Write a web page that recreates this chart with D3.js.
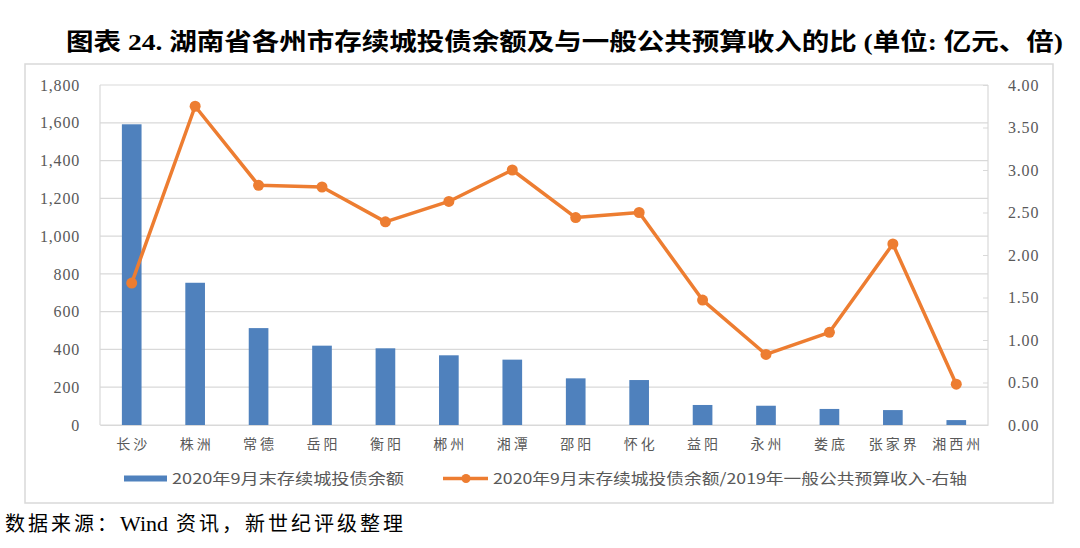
<!DOCTYPE html>
<html>
<head>
<meta charset="utf-8">
<script src="https://cdn.jsdelivr.net/npm/d3@7/dist/d3.min.js"></script>
<style>
  html, body { margin: 0; padding: 0; background: #fff; }
  svg { display: block; }
</style>
</head>
<body>
<svg id="chart" width="1080" height="548"></svg>
<script>
const categories = ["长沙","株洲","常德","岳阳","衡阳","郴州","湘潭","邵阳","怀化","益阳","永州","娄底","张家界","湘西州"];
const debtBalance = [1592, 753, 513, 420, 406, 369, 346, 247, 238, 106, 102, 85, 79, 26];
const debtRatio = [1.67, 3.75, 2.82, 2.80, 2.39, 2.63, 3.00, 2.44, 2.50, 1.47, 0.83, 1.09, 2.13, 0.48];
const leftTicks = [0, 200, 400, 600, 800, 1000, 1200, 1400, 1600, 1800];
const rightTicks = [0, 0.5, 1, 1.5, 2, 2.5, 3, 3.5, 4];
const seriesNames = ["2020年9月末存续城投债余额", "2020年9月末存续城投债余额/2019年一般公共预算收入-右轴"];
const titleText = "图表 24. 湖南省各州市存续城投债余额及与一般公共预算收入的比 (单位: 亿元、倍)";
const sourceParts = ["数据来源：", "Wind", " 资讯，新世纪评级整理"];

const svg = d3.select("#chart");
const plot = {left: 100, right: 988, top: 85, bottom: 425};
const blue = "#4f81bd", orange = "#ed7d31", grid = "#d9d9d9", txt = "#595959";

// outer frame
svg.append("rect").attr("x", 25).attr("y", 64).attr("width", 1028).attr("height", 439)
  .attr("fill", "none").attr("stroke", "#d9d9d9").attr("stroke-width", 1.5);

// title
svg.append("text").attr("x", 66).attr("y", 50)
  .attr("font-family", "'Liberation Serif','Noto Sans CJK SC',serif")
  .attr("font-weight", "bold").attr("font-size", 24).attr("fill", "#000")
  .attr("textLength", 997).attr("lengthAdjust", "spacingAndGlyphs")
  .text(titleText);

const x = d3.scaleBand().domain(categories).range([plot.left, plot.right]).padding(0);
const yL = d3.scaleLinear().domain([0, 1800]).range([plot.bottom, plot.top]);
const yR = d3.scaleLinear().domain([0, 4]).range([plot.bottom, plot.top]);

// gridlines
svg.append("g").selectAll("line").data(leftTicks).join("line")
  .attr("x1", plot.left).attr("x2", plot.right)
  .attr("y1", d => yL(d)).attr("y2", d => yL(d))
  .attr("stroke", grid).attr("stroke-width", 1.2);

// plot border (left/right)
svg.append("line").attr("x1", plot.left).attr("x2", plot.left).attr("y1", plot.top).attr("y2", plot.bottom)
  .attr("stroke", grid).attr("stroke-width", 1.2);
svg.append("line").attr("x1", plot.right).attr("x2", plot.right).attr("y1", plot.top).attr("y2", plot.bottom)
  .attr("stroke", grid).attr("stroke-width", 1.2);

// left axis
const axL = d3.axisLeft(yL).tickValues(leftTicks).tickSize(0).tickPadding(20).tickFormat(d3.format(","));
const gL = svg.append("g").attr("transform", `translate(${plot.left},0)`).call(axL);
gL.select(".domain").remove();
gL.selectAll("text").attr("font-family", "'Liberation Serif',serif").attr("font-size", 16)
  .attr("fill", txt).attr("letter-spacing", "0.8px");

// right axis
const axR = d3.axisRight(yR).tickValues(rightTicks).tickSize(-5).tickPadding(20).tickFormat(d3.format(".2f"));
const gR = svg.append("g").attr("transform", `translate(${plot.right},0)`).call(axR);
gR.select(".domain").remove();
gR.selectAll("line").attr("stroke", grid);
gR.selectAll("text").attr("font-family", "'Liberation Serif',serif").attr("font-size", 16)
  .attr("fill", txt).attr("letter-spacing", "0.8px");

// x axis labels
const axX = d3.axisBottom(x).tickSize(0).tickPadding(14);
const gX = svg.append("g").attr("transform", `translate(0,${plot.bottom})`).call(axX);
gX.select(".domain").attr("stroke", grid).attr("stroke-width", 1.2);
gX.selectAll("text").attr("font-family", "'Noto Sans CJK SC',sans-serif").attr("font-size", 14)
  .attr("fill", txt).attr("letter-spacing", "3px").attr("dx", "1.5px");

// bars
const bw = x.bandwidth() * 0.31;
svg.append("g").selectAll("rect").data(categories).join("rect")
  .attr("x", (d) => x(d) + x.bandwidth() / 2 - bw / 2)
  .attr("width", bw)
  .attr("y", (d, i) => yL(debtBalance[i]))
  .attr("height", (d, i) => yL(0) - yL(debtBalance[i]))
  .attr("fill", blue);

// line
const line = d3.line().x((d, i) => x(categories[i]) + x.bandwidth() / 2).y(d => yR(d));
svg.append("path").datum(debtRatio).attr("d", line)
  .attr("fill", "none").attr("stroke", orange).attr("stroke-width", 3.5).attr("stroke-linejoin", "round");
svg.append("g").selectAll("circle").data(debtRatio).join("circle")
  .attr("cx", (d, i) => x(categories[i]) + x.bandwidth() / 2)
  .attr("cy", d => yR(d)).attr("r", 5.5).attr("fill", orange);

// legend
const lg = svg.append("g");
lg.append("rect").attr("x", 124).attr("y", 475.5).attr("width", 43).attr("height", 6).attr("fill", blue);
lg.append("text").attr("x", 172).attr("y", 484)
  .attr("font-family", "'Noto Sans CJK SC',sans-serif").attr("font-size", 15).attr("fill", txt)
  .attr("textLength", 232).attr("lengthAdjust", "spacingAndGlyphs").text(seriesNames[0]);
lg.append("line").attr("x1", 443).attr("x2", 488).attr("y1", 478.5).attr("y2", 478.5)
  .attr("stroke", orange).attr("stroke-width", 3.5);
lg.append("circle").attr("cx", 466).attr("cy", 478.5).attr("r", 4.5).attr("fill", orange);
lg.append("text").attr("x", 493).attr("y", 484)
  .attr("font-family", "'Noto Sans CJK SC',sans-serif").attr("font-size", 15).attr("fill", txt)
  .attr("textLength", 474).attr("lengthAdjust", "spacingAndGlyphs").text(seriesNames[1]);

// source
const src = svg.append("text").attr("x", 5).attr("y", 531)
  .attr("font-family", "'Liberation Serif','Noto Sans CJK SC',serif").attr("font-size", 20).attr("fill", "#000");
src.append("tspan").attr("letter-spacing", "3px").text(sourceParts[0]);
src.append("tspan").attr("font-size", 22).text(sourceParts[1]);
src.append("tspan").attr("letter-spacing", "3px").text(sourceParts[2]);
</script>
</body>
</html>
